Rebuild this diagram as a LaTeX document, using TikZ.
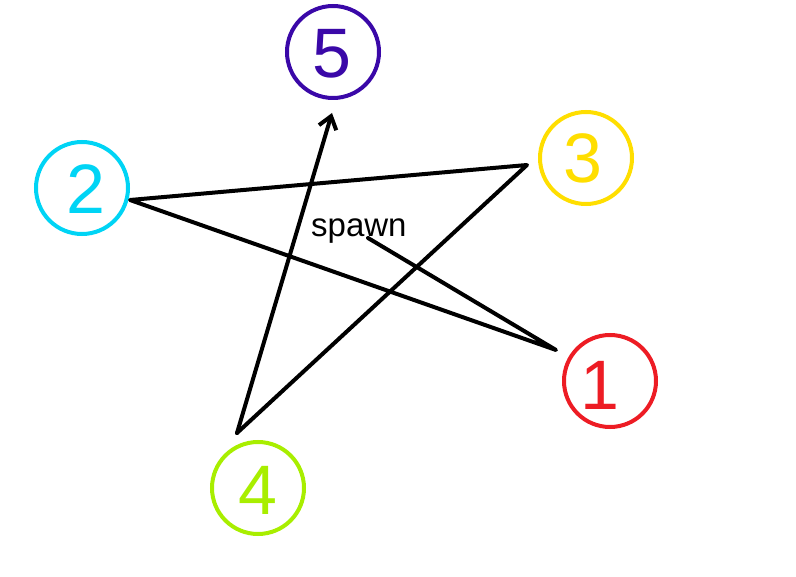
\documentclass[tikz,border=0pt]{standalone}
\usepackage{fontspec}
\setmainfont{Liberation Sans}
\usetikzlibrary{arrows.meta}
\definecolor{cfive}{RGB}{58,8,168}
\definecolor{cone}{RGB}{237,28,36}
\definecolor{ctwo}{RGB}{0,212,245}
\definecolor{cthree}{RGB}{255,222,0}
\definecolor{cfour}{RGB}{168,238,0}
\tikzset{
  ring/.style={draw=#1, line width=4pt, circle, minimum size=92pt, inner sep=0pt},
  digit/.style={text=#1, font=\fontsize{70}{70}\selectfont, inner sep=0pt},
  stroke/.style={line width=4pt, line cap=round, line join=round, black},
}
\begin{document}
\begin{tikzpicture}[x=1pt,y=-1pt]
\useasboundingbox (0,0) rectangle (796,577);
\node[ring=cfive] (n5) at (333,52) {};
\node[ring=cone] (n1) at (610,381) {};
\node[ring=ctwo] (n2) at (82,188) {};
\node[ring=cthree] (n3) at (586,158) {};
\node[ring=cfour] (n4) at (258,488) {};
\node[digit=cfive] (d5) at (332,54) {5};
\node[digit=cone] (d1) at (600,385) {1};
\node[digit=ctwo] (d2) at (86,189) {2};
\node[digit=cthree] (d3) at (583,158) {3};
\node[digit=cfour] (d4) at (258,490) {4};
\node[font=\fontsize{33}{33}\selectfont, inner sep=0pt, anchor=base west] (spawn) at (311,237) {spawn};
\coordinate (s0) at (368,238);
\coordinate (p1) at (556,350);
\coordinate (p2) at (130,200);
\coordinate (p3) at (527,165);
\coordinate (p4) at (237,433);
\coordinate (p5) at (332,113);
\draw[stroke] (s0) -- (p1) -- (p2) -- (p3) -- (p4);
\draw[stroke, -{Straight Barb[length=12pt, width=18pt, line width=4pt]}] (p4) -- (p5);
\end{tikzpicture}
\end{document}
